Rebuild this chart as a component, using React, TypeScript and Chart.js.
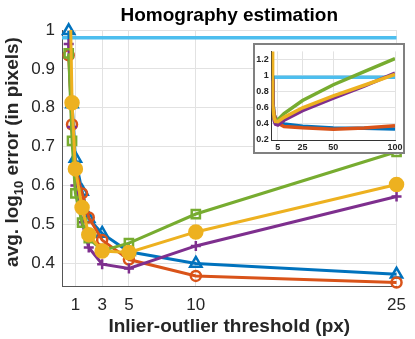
import React, { useEffect, useRef } from 'react';
import { Chart, registerables } from 'chart.js';
Chart.register(...registerables);

// ---------- main plot data ----------
const xValues = [0.5, 0.75, 1, 1.5, 2, 3, 5, 10, 25];
const blueSeries = [0.998, 0.81, 0.67, 0.585, 0.515, 0.477, 0.43, 0.4, 0.372];
const orangeSeries = [0.935, 0.757, 0.645, 0.58, 0.518, 0.46, 0.41, 0.368, 0.351];
const purpleSeries = [0.964, 0.751, 0.6, 0.506, 0.441, 0.398, 0.387, 0.445, 0.572];
const greenSeries = [0.94, 0.715, 0.58, 0.505, 0.465, 0.433, 0.452, 0.527, 0.687];
const yellowSeries = [1.3, 0.813, 0.643, 0.544, 0.474, 0.432, 0.428, 0.481, 0.603];
const refX = [0, 25];
const refY = [0.98, 0.98];
const xTicks = [1, 3, 5, 10, 25];
const yTicks = [0.4, 0.5, 0.6, 0.7, 0.8, 0.9, 1];

// ---------- inset data ----------
const insetX = [0.25, 0.5, 1, 2, 3, 5, 10, 25, 50, 75, 100];
const insetBlue = [null, 0.998, 0.67, 0.515, 0.477, 0.43, 0.4, 0.372, 0.35, 0.345, 0.338];
const insetOrange = [null, 0.935, 0.645, 0.518, 0.46, 0.41, 0.368, 0.351, 0.332, 0.35, 0.378];
const insetPurple = [null, 0.964, 0.6, 0.441, 0.398, 0.387, 0.445, 0.565, 0.72, 0.87, 1.03];
const insetGreen = [null, 0.94, 0.58, 0.465, 0.433, 0.452, 0.527, 0.69, 0.886, 1.05, 1.21];
const insetYellow = [1.4, 1.3, 0.643, 0.474, 0.432, 0.428, 0.481, 0.6, 0.749, 0.88, 1.015];
const insetRefX = [1, 100];
const insetRefY = [0.98, 0.98];
const insetXTicks = [5, 25, 50, 100];
const insetYTicks = [0.2, 0.4, 0.6, 0.8, 1, 1.2];

const titleText = 'Homography estimation';
const xTitle = 'Inlier-outlier threshold (px)';
const yTitleA = 'avg. log';
const yTitleSub = '10';
const yTitleB = ' error (in pixels)';

const BLUE = '#0072BD';
const ORANGE = '#D95319';
const YELLOW = '#EDB120';
const PURPLE = '#7E2F8E';
const GREEN = '#77AC30';
const LIGHTBLUE = '#4DBEEE';
const FONT = '"Liberation Sans", Arial, Helvetica, sans-serif';
const TICKCOL = '#262626';
const GRIDCOL = '#e2e2e2';

const pts = (xs: number[], ys: (number | null)[]) => xs.map((x, i) => ({ x, y: ys[i] }));

const mainTextPlugin = {
  id: 'mainText',
  afterDraw(chart: any) {
    const { ctx, chartArea } = chart;
    ctx.save();
    ctx.fillStyle = '#000';
    ctx.font = `bold 19px ${FONT}`;
    ctx.textAlign = 'center';
    ctx.textBaseline = 'alphabetic';
    ctx.fillText(titleText, (chartArea.left + chartArea.right) / 2, 20.5);
    ctx.fillStyle = TICKCOL;
    ctx.translate(18, 152);
    ctx.rotate(-Math.PI / 2);
    ctx.textAlign = 'left';
    ctx.font = `bold 19px ${FONT}`;
    const w1 = ctx.measureText(yTitleA).width;
    const w3 = ctx.measureText(yTitleB).width;
    ctx.font = `bold 13px ${FONT}`;
    const w2 = ctx.measureText(yTitleSub).width;
    let x = -(w1 + w2 + w3) / 2;
    ctx.font = `bold 19px ${FONT}`;
    ctx.fillText(yTitleA, x, 0);
    x += w1;
    ctx.font = `bold 13px ${FONT}`;
    ctx.fillText(yTitleSub, x, 5);
    x += w2;
    ctx.font = `bold 19px ${FONT}`;
    ctx.fillText(yTitleB, x, 0);
    ctx.restore();
  },
};

const insetFramePlugin = {
  id: 'insetFrame',
  beforeDraw(chart: any) {
    const { ctx, width, height } = chart;
    ctx.save();
    ctx.fillStyle = '#fff';
    ctx.fillRect(0, 0, width, height);
    ctx.restore();
  },
  afterDraw(chart: any) {
    const { ctx, width, height } = chart;
    ctx.save();
    ctx.strokeStyle = '#808080';
    ctx.lineWidth = 2;
    ctx.strokeRect(1, 1, width - 2, height - 2);
    ctx.restore();
  },
};

export default function App() {
  const mainRef = useRef<HTMLCanvasElement>(null);
  const insetRef = useRef<HTMLCanvasElement>(null);

  useEffect(() => {
    const lineDs = (label: string, ys: number[], color: string, style: string, radius: number, fill: boolean, clip: any = false) => ({
      label,
      data: pts(xValues, ys),
      borderColor: color,
      backgroundColor: color,
      borderWidth: 3,
      pointStyle: style,
      pointRadius: radius,
      pointBorderWidth: 2.5,
      pointBorderColor: color,
      pointBackgroundColor: fill ? color : 'rgba(0,0,0,0)',
      clip,
      tension: 0,
    });
    const main = new Chart(mainRef.current!, {
      type: 'line',
      data: {
        datasets: [
          lineDs('yellow', yellowSeries, YELLOW, 'circle', 6.5, true, { left: false, top: 0, right: false, bottom: false }),
          lineDs('green', greenSeries, GREEN, 'rect', 5.8, false),
          lineDs('purple', purpleSeries, PURPLE, 'cross', 5, false),
          lineDs('orange', orangeSeries, ORANGE, 'circle', 5, false),
          lineDs('blue', blueSeries, BLUE, 'triangle', 6.5, false),
          {
            label: 'ref',
            data: pts(refX, refY),
            borderColor: LIGHTBLUE,
            borderWidth: 3.5,
            pointRadius: 0,
            clip: false,
          } as any,
        ] as any,
      },
      options: {
        responsive: false,
        animation: false,
        layout: { padding: { top: 30, right: 10, left: 0, bottom: 0 } },
        plugins: { legend: { display: false }, title: { display: false }, tooltip: { enabled: false } },
        scales: {
          x: {
            type: 'linear',
            min: 0,
            max: 25,
            afterBuildTicks: (s: any) => { s.ticks = xTicks.map((v) => ({ value: v })); },
            afterFit: (s: any) => { s.height = 53; },
            grid: { color: GRIDCOL, drawTicks: false },
            border: { color: '#555', width: 1 },
            ticks: { color: TICKCOL, font: { size: 17, family: FONT }, padding: 9, maxRotation: 0 },
            title: { display: true, text: xTitle, color: TICKCOL, font: { size: 19, weight: 'bold', family: FONT }, padding: { top: 0, bottom: 1 } },
          },
          y: {
            type: 'linear',
            min: 0.342,
            max: 1.0,
            afterBuildTicks: (s: any) => { s.ticks = yTicks.map((v) => ({ value: v })); },
            afterFit: (s: any) => { s.width = 62; },
            grid: { color: GRIDCOL, drawTicks: false },
            border: { color: '#555', width: 1 },
            ticks: { color: TICKCOL, font: { size: 17, family: FONT }, padding: 7, callback: (v: any) => String(Math.round(v * 10) / 10) },
          },
        },
      } as any,
      plugins: [mainTextPlugin],
    });

    const insetDs = (label: string, ys: (number | null)[], color: string) => ({
      label,
      data: pts(insetX, ys),
      borderColor: color,
      borderWidth: 3.5,
      pointRadius: 0,
      tension: 0,
    });
    const inset = new Chart(insetRef.current!, {
      type: 'line',
      data: {
        datasets: [
          insetDs('yellow', insetYellow, YELLOW),
          insetDs('purple', insetPurple, PURPLE),
          insetDs('green', insetGreen, GREEN),
          insetDs('orange', insetOrange, ORANGE),
          insetDs('blue', insetBlue, BLUE),
          { label: 'ref', data: pts(insetRefX, insetRefY), borderColor: LIGHTBLUE, borderWidth: 3.5, pointRadius: 0 } as any,
        ] as any,
      },
      options: {
        responsive: false,
        animation: false,
        layout: { padding: { top: 3.5, right: 10, left: 0, bottom: 0 } },
        plugins: { legend: { display: false }, title: { display: false }, tooltip: { enabled: false } },
        scales: {
          x: {
            type: 'linear',
            min: 0,
            max: 100,
            afterBuildTicks: (s: any) => { s.ticks = insetXTicks.map((v) => ({ value: v })); },
            afterFit: (s: any) => { s.height = 14; },
            grid: { color: GRIDCOL, drawTicks: false },
            border: { color: '#333', width: 1 },
            ticks: { color: TICKCOL, font: { size: 9, weight: 'bold', family: FONT }, padding: 2, maxRotation: 0 },
          },
          y: {
            type: 'linear',
            min: 0.2,
            max: 1.3,
            afterBuildTicks: (s: any) => { s.ticks = insetYTicks.map((v) => ({ value: v })); },
            afterFit: (s: any) => { s.width = 18.7; },
            grid: { color: GRIDCOL, drawTicks: false },
            border: { color: '#333', width: 1 },
            ticks: { color: TICKCOL, font: { size: 9, weight: 'bold', family: FONT }, padding: 3, callback: (v: any) => String(Math.round(v * 10) / 10) },
          },
        },
      } as any,
      plugins: [insetFramePlugin],
    });

    return () => {
      main.destroy();
      inset.destroy();
    };
  }, []);

  return (
    <div style={{ position: 'fixed', left: 0, top: 0, width: 415, height: 339, background: '#fff' }}>
      <canvas ref={mainRef} width={415} height={339} style={{ position: 'absolute', left: 0, top: 0, width: 415, height: 339 }} />
      <canvas ref={insetRef} width={152} height={111} style={{ position: 'absolute', left: 253, top: 43, width: 152, height: 111 }} />
    </div>
  );
}
